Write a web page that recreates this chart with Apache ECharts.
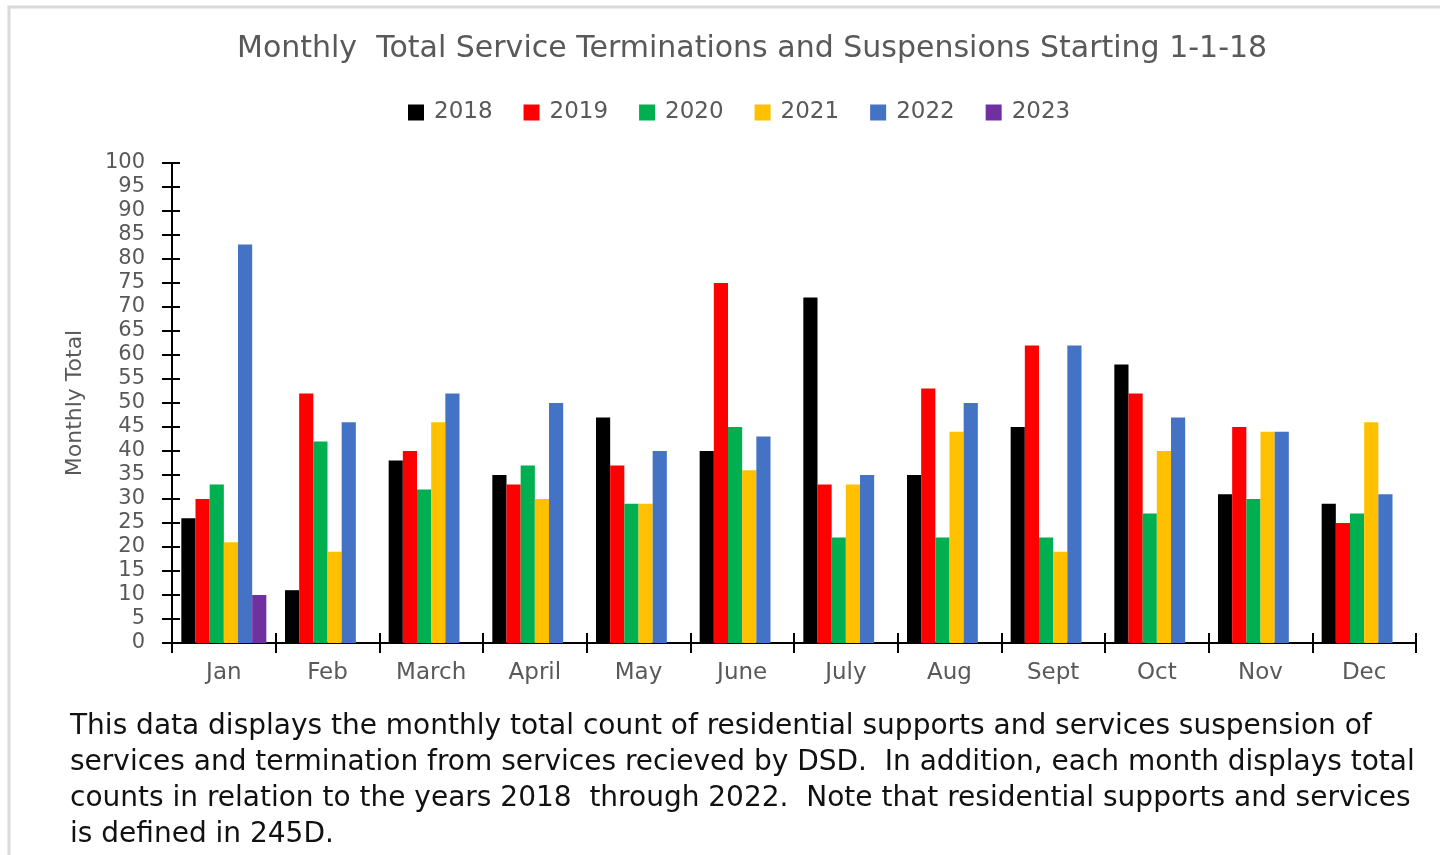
<!DOCTYPE html>
<html>
<head>
<meta charset="utf-8">
<title>Monthly Total Service Terminations and Suspensions</title>
<script src="https://cdn.jsdelivr.net/npm/echarts@6/dist/echarts.min.js"></script>
<style>
  html, body { margin: 0; padding: 0; background: #fff; }
  #chart { width: 1440px; height: 855px; }
</style>
</head>
<body>
<div id="chart"></div>
<script>
// values
var months = ['Jan', 'Feb', 'March', 'April', 'May', 'June', 'July', 'Aug', 'Sept', 'Oct', 'Nov', 'Dec']
var years = ['2018', '2019', '2020', '2021', '2022', '2023']

var y2018 = [26, 11, 38, 35, 47, 40, 72, 35, 45, 58, 31, 29]
var y2019 = [30, 52, 40, 33, 37, 75, 33, 53, 62, 52, 45, 25]
var y2020 = [33, 42, 32, 37, 29, 45, 22, 22, 22, 27, 30, 27]
var y2021 = [21, 19, 46, 30, 29, 36, 33, 44, 19, 40, 44, 46]
var y2022 = [83, 46, 52, 50, 40, 43, 35, 50, 62, 47, 44, 31]
var y2023 = [10, null, null, null, null, null, null, null, null, null, null, null]

var yearColors = ['#000000', '#ff0000', '#00b050', '#ffc000', '#4472c4', '#7030a0']

var note = 'This data displays the monthly total count of residential supports and services suspension of\n' +
  'services and termination from services recieved by DSD.  In addition, each month displays total\n' +
  'counts in relation to the years 2018  through 2022.  Note that residential supports and services\n' +
  'is defined in 245D.'

var gray = '#595959'
var font = 'DejaVu Sans'

var chart = echarts.init(document.getElementById('chart'))
window.addEventListener('resize', chart.resize)

var seriesData = [y2018, y2019, y2020, y2021, y2022, y2023]
var series = years.map(function (y, i) {
  return {
    name: y,
    type: 'bar',
    data: seriesData[i],
    itemStyle: {color: yearColors[i]},
    barGap: 0,
    barCategoryGap: '18%'
  }
})

var tickLine = {color: '#000', width: 2}

chart.setOption({
  animation: false,
  color: yearColors,
  title: {
    text: 'Monthly  Total Service Terminations and Suspensions Starting 1-1-18',
    left: 232,
    top: 29,
    textStyle: {fontFamily: font, fontSize: 30, fontWeight: 'normal', color: gray}
  },
  legend: {
    data: years,
    left: 403,
    top: 96,
    itemWidth: 16,
    itemHeight: 16,
    itemGap: 31,
    icon: 'rect',
    textStyle: {fontFamily: font, fontSize: 23, color: gray, padding: [0, 0, 0, 5]}
  },
  grid: {left: 172, right: 24, top: 163, bottom: 212, containLabel: false},
  xAxis: [{
    type: 'category',
    data: months,
    axisLine: {lineStyle: {color: '#000', width: 2}},
    axisTick: {show: true, length: 10, lineStyle: tickLine},
    axisLabel: {fontFamily: font, fontSize: 23, color: gray, margin: 19}
  }, {
    type: 'category',
    data: months,
    position: 'bottom',
    axisLine: {show: false},
    axisTick: {show: true, inside: true, length: 10, lineStyle: tickLine},
    axisLabel: {show: false}
  }],
  yAxis: [{
    type: 'value',
    min: 0,
    max: 100,
    interval: 5,
    name: 'Monthly Total',
    nameLocation: 'middle',
    nameGap: 86,
    nameTextStyle: {fontFamily: font, fontSize: 22, color: gray},
    splitLine: {show: false},
    axisLine: {show: true, lineStyle: {color: '#000', width: 2}},
    axisTick: {show: true, length: 10, lineStyle: tickLine},
    axisLabel: {fontFamily: font, fontSize: 21, color: gray, margin: 27}
  }, {
    type: 'value',
    min: 0,
    max: 100,
    interval: 5,
    position: 'left',
    splitLine: {show: false},
    axisLine: {show: false},
    axisTick: {show: true, inside: true, length: 8, lineStyle: tickLine},
    axisLabel: {show: false}
  }],
  graphic: [{
    type: 'rect',
    shape: {x: 9, y: 7, width: 1450, height: 880},
    style: {fill: 'none', stroke: '#d9d9d9', lineWidth: 3},
    silent: true
  }, {
    type: 'text',
    left: 70,
    top: 709,
    style: {
      text: note,
      fontFamily: font,
      fontSize: 28,
      lineHeight: 36,
      fill: '#111111'
    }
  }],
  series: series
})
</script>
</body>
</html>
